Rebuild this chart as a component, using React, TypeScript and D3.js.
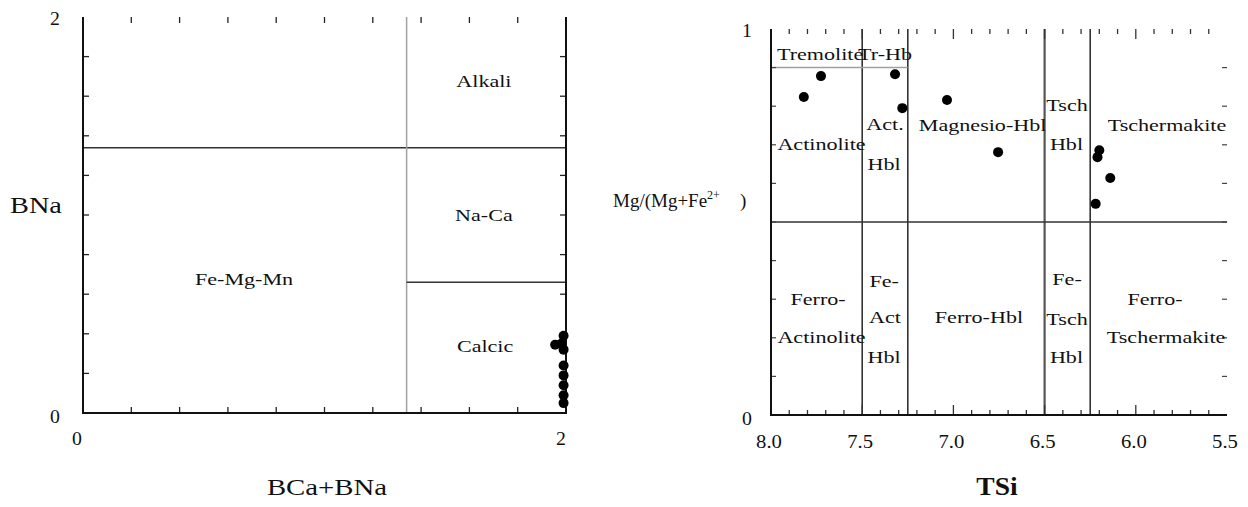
import React from "react";
import * as d3 from "d3";

// ---------- Data ----------
// Left diagram: BCa+BNa vs BNa
const leftPointsX = [1.99, 1.98, 1.955, 1.99, 1.99, 1.99, 1.99, 1.99, 1.99];
const leftPointsY = [0.39, 0.35, 0.345, 0.32, 0.24, 0.19, 0.14, 0.09, 0.05];
const leftAxisLabelsX = ["0", "2"];
const leftAxisLabelsY = ["0", "2"];
// boundaries: [x1, y1, x2, y2, kind]
const leftBoundaries: [number, number, number, number, string][] = [
  [0, 1.34, 2, 1.34, "dark"],
  [1.34, 0, 1.34, 2, "light"],
  [1.34, 0.66, 2, 0.66, "dark"],
];
const leftRegionNames = ["Alkali", "Na-Ca", "Fe-Mg-Mn", "Calcic"];
const leftRegionX = [1.66, 1.66, 0.667, 1.665];
const leftRegionY = [1.646, 0.97, 0.646, 0.308];

// Right diagram: TSi vs Mg/(Mg+Fe2+)
const rightPointsTSi = [7.82, 7.726, 7.32, 7.28, 7.035, 6.755, 6.2, 6.21, 6.14, 6.22];
const rightPointsMg = [0.824, 0.878, 0.883, 0.795, 0.816, 0.681, 0.686, 0.668, 0.614, 0.547];
const rightTickLabels = ["8.0", "7.5", "7.0", "6.5", "6.0", "5.5"];
const rightTickValues = [8.0, 7.5, 7.0, 6.5, 6.0, 5.5];
const rightBoundaries: [number, number, number, number, string][] = [
  [7.5, 0, 7.5, 1, "dark"],
  [7.25, 0, 7.25, 1, "dark"],
  [6.5, 0, 6.5, 1, "mid"],
  [6.25, 0, 6.25, 1, "dark"],
  [8.0, 0.5, 5.5, 0.5, "dark"],
  [8.0, 0.9, 7.25, 0.9, "light"],
];
const rightRegionNames = [
  "Actinolite", "Act.", "Hbl", "Magnesio-Hbl", "Tsch", "Hbl", "Tschermakite",
  "Ferro-", "Actinolite", "Fe-", "Act", "Hbl", "Ferro-Hbl", "Fe-", "Tsch", "Hbl",
  "Ferro-", "Tschermakite",
];
const rightRegionX = [
  7.723, 7.375, 7.38, 6.84, 6.377, 6.38, 5.829,
  7.742, 7.723, 7.38, 7.375, 7.38, 6.86, 6.377, 6.377, 6.38,
  5.895, 5.834,
];
const rightRegionY = [
  0.687, 0.738, 0.635, 0.736, 0.788, 0.687, 0.736,
  0.285, 0.187, 0.332, 0.238, 0.135, 0.238, 0.337, 0.233, 0.135,
  0.285, 0.187,
];

// ---------- Scales ----------
const lx = d3.scaleLinear().domain([0, 2]).range([83, 566]);
const ly = d3.scaleLinear().domain([0, 2]).range([413, 17]);
const rx = d3.scaleLinear().domain([8, 5.5]).range([771, 1227]);
const ry = d3.scaleLinear().domain([0, 1]).range([415, 29]);

const SERIF = "'Liberation Serif', 'Times New Roman', serif";
const STRETCH = 1.38;

const strokeFor = (k: string) =>
  k === "light" ? { stroke: "#a0a0a0", w: 1.5 } : k === "mid" ? { stroke: "#555", w: 2.2 } : { stroke: "#333", w: 1.6 };

function Label({ x, y, text, anchor = "middle", size = 16, sx = STRETCH, weight = "normal" }: any) {
  return (
    <text
      transform={`translate(${x},${y}) scale(${sx},1)`}
      textAnchor={anchor}
      fontSize={size}
      fontFamily={SERIF}
      fontWeight={weight}
      fill="#111"
    >
      {text}
    </text>
  );
}

export default function App() {
  const lTicks = d3.range(1, 10).map((i) => i * 0.2);
  const rxTicks = d3.range(1, 25).map((i) => +(8 - i * 0.1).toFixed(2));
  const ryTicks = d3.range(1, 10).map((i) => +(i * 0.1).toFixed(2));

  return (
    <svg
      width={1248}
      height={507}
      style={{ position: "absolute", left: 0, top: 0, background: "#fff" }}
    >
      <rect x={0} y={0} width={1248} height={507} fill="#fff" />

      {/* ================= LEFT CHART ================= */}
      <g>
        {leftBoundaries.map(([x1, y1, x2, y2, k], i) => {
          const s = strokeFor(k);
          return (
            <line key={i} x1={lx(x1)} y1={ly(y1)} x2={lx(x2)} y2={ly(y2)} stroke={s.stroke} strokeWidth={s.w} />
          );
        })}
        {/* ticks */}
        {lTicks.map((t, i) => (
          <g key={i} stroke="#222" strokeWidth={1.3}>
            <line x1={lx(t)} x2={lx(t)} y1={ly(0)} y2={ly(0) - 6} />
            <line x1={lx(t)} x2={lx(t)} y1={ly(2)} y2={ly(2) + 6} />
            <line x1={lx(0)} x2={lx(0) + 6} y1={ly(t)} y2={ly(t)} />
            <line x1={lx(2)} x2={lx(2) - 6} y1={ly(t)} y2={ly(t)} />
          </g>
        ))}
        {/* frame: left, bottom, right */}
        <path
          d={`M${lx(0)},${ly(2)} L${lx(0)},${ly(0)} L${lx(2)},${ly(0)} L${lx(2)},${ly(2)}`}
          fill="none"
          stroke="#111"
          strokeWidth={2}
        />
        {leftRegionNames.map((n, i) => (
          <Label key={i} x={lx(leftRegionX[i])} y={ly(leftRegionY[i])} text={n} />
        ))}
        {leftPointsX.map((x, i) => (
          <circle key={i} cx={lx(x)} cy={ly(leftPointsY[i])} r={5} fill="#000" />
        ))}
        {/* tick labels */}
        <Label x={55} y={ly(2) + 8} text={leftAxisLabelsY[1]} size={18} sx={1.1} />
        <Label x={55} y={ly(0) + 10} text={leftAxisLabelsY[0]} size={18} sx={1.1} />
        <Label x={lx(0) - 6} y={445} text={leftAxisLabelsX[0]} size={18} sx={1.1} />
        <Label x={lx(2) - 5} y={445} text={leftAxisLabelsX[1]} size={18} sx={1.1} />
        {/* titles */}
        <Label x={36} y={213} text="BNa" size={24} sx={1.18} />
        <Label x={327} y={495} text="BCa+BNa" size={24} sx={1.2} />
      </g>

      {/* ================= RIGHT CHART ================= */}
      <g>
        {rightBoundaries.map(([x1, y1, x2, y2, k], i) => {
          const s = strokeFor(k);
          return (
            <line key={i} x1={rx(x1)} y1={ry(y1)} x2={rx(x2)} y2={ry(y2)} stroke={s.stroke} strokeWidth={s.w} />
          );
        })}
        {rxTicks.map((t, i) => {
          const major = Math.abs(t * 2 - Math.round(t * 2)) < 1e-6;
          const len = major ? 10 : 5;
          return (
            <g key={i} stroke="#333" strokeWidth={1.3}>
              <line x1={rx(t)} x2={rx(t)} y1={ry(0)} y2={ry(0) - len} />
              <line x1={rx(t)} x2={rx(t)} y1={ry(1)} y2={ry(1) + len} />
            </g>
          );
        })}
        {ryTicks.map((t, i) => (
          <g key={i} stroke="#444" strokeWidth={1.2}>
            <line x1={rx(8)} x2={rx(8) + 5} y1={ry(t)} y2={ry(t)} />
            <line x1={rx(5.5)} x2={rx(5.5) - 5} y1={ry(t)} y2={ry(t)} />
          </g>
        ))}
        {/* frame: left, bottom */}
        <path
          d={`M${rx(8)},${ry(1)} L${rx(8)},${ry(0)} L${rx(5.5)},${ry(0)}`}
          fill="none"
          stroke="#111"
          strokeWidth={2}
        />
        {/* Tremolite & Tr-Hb */}
        <Label x={rx(7.967)} y={ry(0.92)} text="Tremolite" anchor="start" />
        <Label x={rx(7.227)} y={ry(0.92)} text="Tr-Hb" anchor="end" />
        {rightRegionNames.map((n, i) => (
          <Label key={i} x={rx(rightRegionX[i])} y={ry(rightRegionY[i])} text={n} />
        ))}
        {rightPointsTSi.map((x, i) => (
          <circle key={i} cx={rx(x)} cy={ry(rightPointsMg[i])} r={5} fill="#000" />
        ))}
        {/* tick labels */}
        {rightTickValues.map((v, i) => (
          <Label key={i} x={rx(v) - 2} y={448} text={rightTickLabels[i]} size={18} sx={1.15} />
        ))}
        <Label x={747} y={37} text="1" size={18} sx={1.1} />
        <Label x={747} y={425} text="0" size={18} sx={1.1} />
        {/* titles */}
        <text x={613} y={207} fontSize={19} fontFamily={SERIF} fill="#111">
          Mg/(Mg+Fe
          <tspan fontSize={12} dy={-8}>2+</tspan>
          <tspan dy={8} dx={20}>)</tspan>
        </text>
        <Label x={997} y={495} text="TSi" size={25} sx={1.1} weight="bold" />
      </g>
    </svg>
  );
}
